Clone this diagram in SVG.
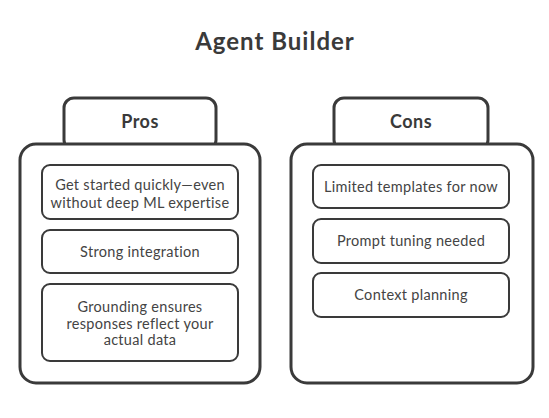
<svg xmlns="http://www.w3.org/2000/svg" width="549" height="418" viewBox="0 0 549 418">
<style>
.outer{fill:#fff;stroke:#3a3a3a;stroke-width:3;}
.inner{fill:#fff;stroke:#3a3a3a;stroke-width:2;}
.h{font-family:Lato,"Open Sans",sans-serif;font-weight:bold;fill:#3a3a3a;text-anchor:middle;}
.t{font-family:Lato,"Open Sans",sans-serif;font-size:14.5px;letter-spacing:0.3px;fill:#444;text-anchor:middle;}
</style>
<rect width="549" height="418" fill="#fff"/>
<text class="h" x="275" y="50" font-size="24" letter-spacing="1">Agent Builder</text>
<g id="pros">
<rect class="outer" x="64" y="98" width="152" height="52" rx="10"/>
<rect class="outer" x="20" y="144" width="240" height="239" rx="16"/>
<text class="h" x="140" y="128" font-size="18" letter-spacing="0.5">Pros</text>
</g>
<g id="pros-1">
<rect class="inner" x="42" y="165" width="196" height="54" rx="8"/>
<text class="t" x="140" y="190">Get started quickly—even</text>
<text class="t" x="140" y="208">without deep ML expertise</text>
</g>
<g id="pros-2">
<rect class="inner" x="42" y="230" width="196" height="43" rx="8"/>
<text class="t" x="140" y="257">Strong integration</text>
</g>
<g id="pros-3">
<rect class="inner" x="42" y="284" width="196" height="77" rx="8"/>
<text class="t" x="140" y="312">Grounding ensures</text>
<text class="t" x="140" y="329">responses reflect your</text>
<text class="t" x="140" y="345">actual data</text>
</g>
<g id="cons">
<rect class="outer" x="334" y="98" width="154" height="52" rx="10"/>
<rect class="outer" x="291" y="144" width="242" height="239" rx="16"/>
<text class="h" x="411" y="128" font-size="18" letter-spacing="0.5">Cons</text>
</g>
<g id="cons-1">
<rect class="inner" x="313" y="165" width="196" height="43" rx="8"/>
<text class="t" x="411" y="192">Limited templates for now</text>
</g>
<g id="cons-2">
<rect class="inner" x="313" y="219" width="196" height="44" rx="8"/>
<text class="t" x="411" y="246">Prompt tuning needed</text>
</g>
<g id="cons-3">
<rect class="inner" x="313" y="273" width="196" height="44" rx="8"/>
<text class="t" x="411" y="300">Context planning</text>
</g>
<g id="connectors"/>
</svg>
